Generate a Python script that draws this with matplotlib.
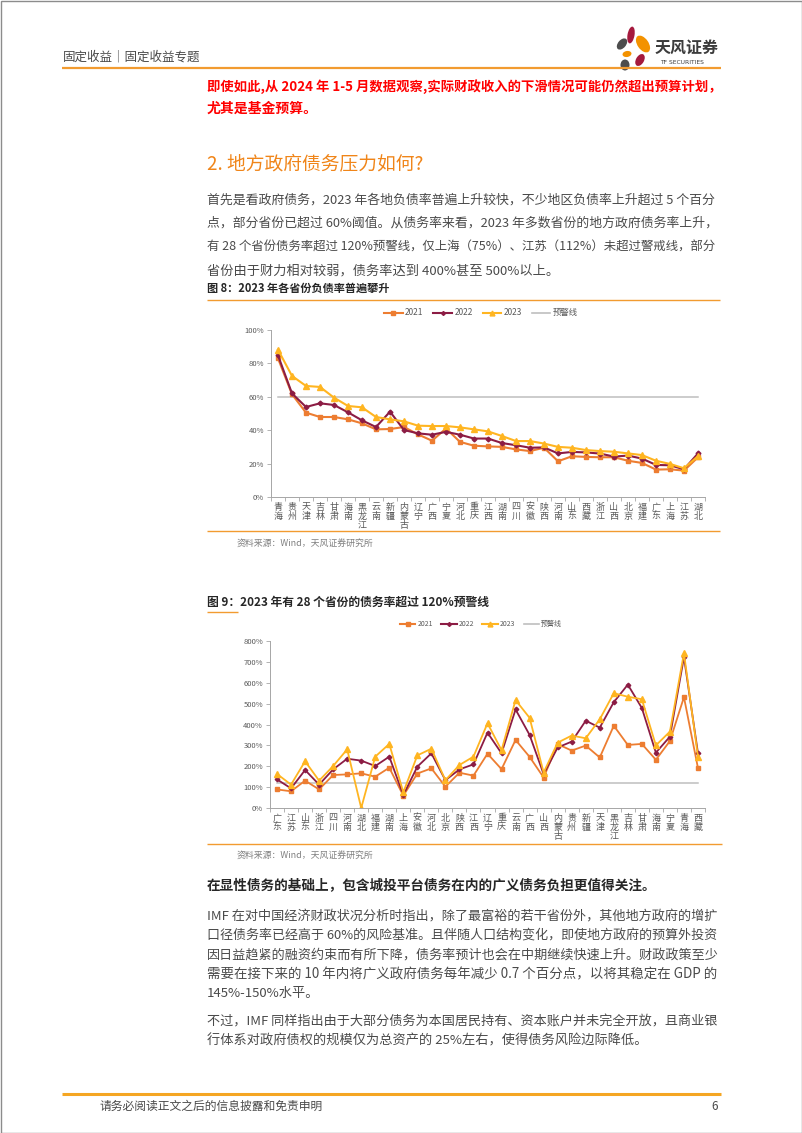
import matplotlib
matplotlib.use("Agg")
import matplotlib.pyplot as plt
from matplotlib.lines import Line2D
from matplotlib.patches import Ellipse, Rectangle

plt.rcParams['font.family'] = ['Noto Sans CJK SC', 'DejaVu Sans']

# ---- data ----
prov1 = ['青海', '贵州', '天津', '吉林', '甘肃', '海南', '黑龙江', '云南', '新疆', '内蒙古', '辽宁',
         '广西', '宁夏', '河北', '重庆', '江西', '湖南', '四川', '安徽', '陕西', '河南', '山东',
         '西藏', '浙江', '山西', '北京', '福建', '广东', '上海', '江苏', '湖北']
debt21 = [83, 61.5, 50.5, 47.9, 47.9, 46.5, 44.1, 40.5, 40.7, 41.9, 37.5, 33.7, 41, 33, 30.7,
          30.3, 30, 28.5, 27.5, 29.5, 21.4, 24.4, 24, 23.8, 23.8, 21.7, 20.4, 16.4, 16.6, 15.8, 23.8]
debt22 = [84.8, 62, 53.9, 56.1, 55.1, 50.7, 45.9, 41.9, 51.1, 40.1, 38.1, 37.3, 39, 37.3, 35,
          35, 32.3, 31, 29.5, 29.7, 26.1, 27, 26.7, 26, 24.2, 24.8, 23, 19.2, 19, 16.6, 26.1]
debt23 = [88.2, 72.5, 66.5, 65.9, 59.5, 54.5, 53.7, 47.9, 46.5, 45.3, 42.7, 42.5, 42.5, 41.7, 40.5,
          39.3, 36.5, 33.5, 33.5, 32, 30, 29.5, 28.1, 27.5, 27.1, 26.1, 25.1, 21.7, 19.8, 17.2, 24.5]
warn1 = 60

prov2 = ['广东', '江苏', '山东', '浙江', '四川', '河南', '湖北', '福建', '湖南', '上海', '安徽',
         '河北', '北京', '陕西', '江西', '辽宁', '重庆', '云南', '广西', '山西', '内蒙古', '贵州',
         '新疆', '天津', '黑龙江', '吉林', '甘肃', '海南', '宁夏', '青海', '西藏']
rate21 = [89, 80, 131, 89, 158, 161, 166, 150, 193, 59, 165, 190, 102, 169, 155, 260, 186, 326,
          245, 146, 306, 275, 299, 242, 394, 302, 307, 231, 321, 531, 191]
rate22 = [137, 94, 182, 112, 185, 236, 227, 201, 246, 62, 198, 262, 133, 185, 209, 361, 262, 472,
          350, 162, 290, 318, 418, 385, 507, 591, 479, 265, 342, 723, 262]
rate23 = [163, 112, 224, 131, 201, 281, 0, 246, 307, 75, 252, 284, 133, 206, 246, 406, 277, 517,
          432, 170, 313, 347, 334, 425, 550, 533, 521, 300, 366, 742, 246]
warn2 = 120

years = ['2021', '2022', '2023']
c21, c22, c23, cwarn = '#ed7d31', '#8c1c44', '#ffb521', '#bfbfbf'
orange = '#f29b30'
body = '#4a4a4a'

W, H = 802, 1133
fig = plt.figure(figsize=(W / 100, H / 100), dpi=100)
fig.patch.set_facecolor('white')

# page canvas in pixel coordinates (y down)
bg = fig.add_axes([0, 0, 1, 1])
bg.set_xlim(0, W)
bg.set_ylim(H, 0)
bg.axis('off')
renderer = fig.canvas.get_renderer()


def put(x, y, s, size, width=None, **kw):
    t = bg.text(x, y, s, fontsize=size, va='center', ha='left', **kw)
    if width:
        bb = t.get_window_extent(renderer)
        t.set_fontsize(size * width / bb.width)
    return t


def hline(y, x0, x1, lw=1.0, color=orange):
    bg.plot([x0, x1], [y, y], color=color, lw=lw, solid_capstyle='butt')


bg.add_patch(Rectangle((0.5, 0.5), W - 1, H - 1, fill=False, ec='#8c8c8c', lw=1))

# header
put(63, 57, '固定收益｜固定收益专题', 9, color=body)
hline(68, 62, 721, lw=1.6)
for cx, cy, w, h, ang, col in [(631, 35, 7, 17, 10, '#a5193d'), (643, 44, 11, 19, -35, '#f39200'),
                               (622, 44, 8, 13, 40, '#4d4d4d'), (627, 54, 9, 6, -10, '#f39200'),
                               (640, 60, 8, 13, 30, '#a5193d'), (625, 65, 9, 11, 0, '#4d4d4d')]:
    bg.add_patch(Ellipse((cx, cy), w, h, angle=ang, color=col, lw=0))
put(655, 48, '天风证券', 11.5, color='#3c3c3c', fontweight='bold')
put(660, 63, 'TF SECURITIES', 4.3, color='#3c3c3c', family='DejaVu Sans')

# red conclusion
put(207, 87, '即使如此,从 2024 年 1-5 月数据观察,实际财政收入的下滑情况可能仍然超出预算计划，', 10,
    width=512, color='#ff0000', fontweight='bold')
put(207, 109, '尤其是基金预算。', 10, color='#ff0000', fontweight='bold')

put(207, 165, '2. 地方政府债务压力如何?', 13.5, color='#f08519')

para1 = ['首先是看政府债务，2023 年各地负债率普遍上升较快，不少地区负债率上升超过 5 个百分',
         '点，部分省份已超过 60%阈值。从债务率来看，2023 年多数省份的地方政府债务率上升，',
         '有 28 个省份债务率超过 120%预警线，仅上海（75%）、江苏（112%）未超过警戒线，部分']
for i, s in enumerate(para1):
    put(207, 200 + 23.5 * i, s, 9.5, width=512, color=body)
put(207, 270.5, '省份由于财力相对较弱，债务率达到 400%甚至 500%以上。', 9.5, color=body)


def chart(rect, names, s21, s22, s23, warn, ymax, ystep, lw, ms):
    ax = fig.add_axes([rect[0] / W, 1 - rect[3] / H, (rect[2] - rect[0]) / W, (rect[3] - rect[1]) / H])
    ax.set_facecolor('none')
    x = list(range(len(names)))
    ax.plot(x, [warn] * len(x), color=cwarn, lw=1.1)
    ax.plot(x, s21, color=c21, lw=lw, marker='s', ms=ms, mec=c21, mfc=c21)
    ax.plot(x, s22, color=c22, lw=lw, marker='D', ms=ms * 0.7, mec=c22, mfc=c22)
    ax.plot(x, s23, color=c23, lw=lw, marker='^', ms=ms * 1.1, mec=c23, mfc=c23)
    ax.set_xlim(-0.5, len(x) - 0.5)
    ax.set_ylim(0, ymax)
    ax.set_yticks(range(0, ymax + 1, ystep))
    ax.set_yticklabels([f'{v}%' for v in range(0, ymax + 1, ystep)], fontsize=5.5, color='#595959')
    ax.set_xticks(x)
    ax.set_xticklabels(['\n'.join(n) for n in names], fontsize=6.5, color='#595959', linespacing=1.0)
    ax.set_xticks([i + 0.5 for i in range(-1, len(x))], minor=True)
    ax.tick_params(axis='x', which='major', length=0, pad=4)
    ax.tick_params(axis='x', which='minor', length=3, color='#a6a6a6', width=0.6)
    ax.tick_params(axis='y', length=3, color='#a6a6a6', width=0.6, pad=2)
    for side in ['top', 'right']:
        ax.spines[side].set_visible(False)
    for side in ['left', 'bottom']:
        ax.spines[side].set_color('#a6a6a6')
        ax.spines[side].set_linewidth(0.7)
    return ax


def legend(cx, cy, size):
    hs = [Line2D([], [], color=c21, marker='s', ms=3, lw=1.5),
          Line2D([], [], color=c22, marker='D', ms=2, lw=1.5),
          Line2D([], [], color=c23, marker='^', ms=3.5, lw=1.5),
          Line2D([], [], color=cwarn, lw=1.2)]
    fig.legend(hs, years + ['预警线'], loc='center', bbox_to_anchor=(cx / W, 1 - cy / H), ncol=4,
               frameon=False, fontsize=size, handlelength=2.2, columnspacing=1.2, handletextpad=0.3,
               labelcolor='#595959')


# figure 8
put(207, 288, '图 8：2023 年各省份负债率普遍攀升', 8, color='#262626', fontweight='bold')
hline(300, 207, 720, lw=1.0)
legend(481, 313, 6)
chart((271, 330, 705, 497), prov1, debt21, debt22, debt23, warn1, 100, 20, 1.5, 3.5)
hline(531, 207, 720, lw=1.0)
put(237, 544, '资料来源：Wind，天风证券研究所', 6.4, color='#7f7f7f')

# figure 9
put(207, 602, '图 9：2023 年有 28 个省份的债务率超过 120%预警线', 8.5, color='#262626', fontweight='bold')
hline(612, 207, 238, lw=1.0)
legend(481, 624, 5)
chart((270, 641, 705, 808), prov2, rate21, rate22, rate23, warn2, 800, 100, 1.3, 3.3)
hline(844, 207, 722, lw=1.0)
put(237, 856, '资料来源：Wind，天风证券研究所', 6.4, color='#7f7f7f')

# text below
put(207, 885, '在显性债务的基础上，包含城投平台债务在内的广义债务负担更值得关注。', 9.8,
    color='#262626', fontweight='bold')
para2 = ['IMF 在对中国经济财政状况分析时指出，除了最富裕的若干省份外，其他地方政府的增扩',
         '口径债务率已经高于 60%的风险基准。且伴随人口结构变化，即使地方政府的预算外投资',
         '因日益趋紧的融资约束而有所下降，债务率预计也会在中期继续快速上升。财政政策至少',
         '需要在接下来的 10 年内将广义政府债务每年减少 0.7 个百分点，以将其稳定在 GDP 的']
for i, s in enumerate(para2):
    put(207, 916 + 19.4 * i, s, 9.5, width=512, color=body)
put(207, 993.6, '145%-150%水平。', 9.5, color=body)
put(207, 1022, '不过，IMF 同样指出由于大部分债务为本国居民持有、资本账户并未完全开放，且商业银', 9.5,
    width=512, color=body)
put(207, 1041, '行体系对政府债权的规模仅为总资产的 25%左右，使得债务风险边际降低。', 9.5, color=body)

# footer
hline(1094, 62, 721, lw=2.2, color='#f5a623')
put(100, 1106, '请务必阅读正文之后的信息披露和免责申明', 8.5, color=body)
put(711, 1106, '6', 8.5, color=body)

fig.savefig('out.png', dpi=100, facecolor='white')
